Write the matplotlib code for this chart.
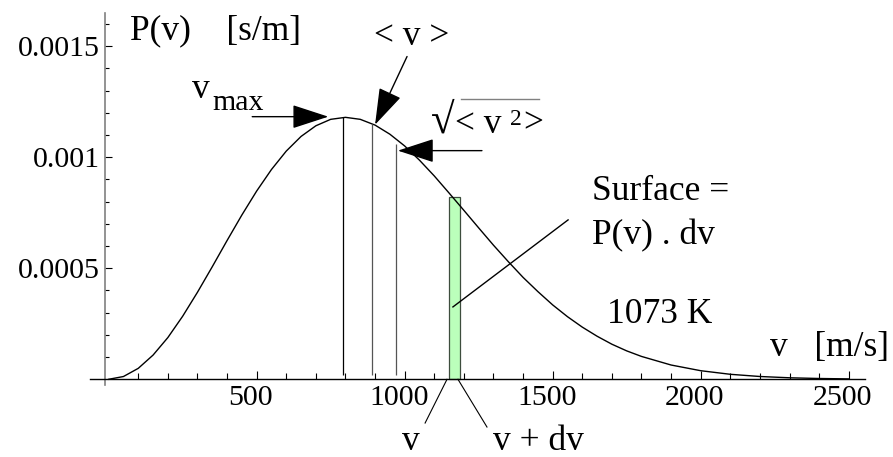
import matplotlib.pyplot as plt
from matplotlib.patches import FancyArrowPatch
from matplotlib.transforms import ScaledTranslation

plt.rcParams['font.family'] = ['Liberation Serif', 'DejaVu Serif']

# Maxwell speed distribution (1073 K)
speed = [0, 50, 100, 150, 200, 250, 300, 350, 400, 450, 500, 550, 600, 650, 700,
         750, 800, 850, 900, 950, 1000, 1050, 1100, 1150, 1200, 1250, 1300, 1350,
         1400, 1450, 1500, 1550, 1600, 1650, 1700, 1750, 1800, 1900, 2000, 2100,
         2200, 2300, 2400, 2500]
prob = [0, 0.0000125, 0.0000493, 0.000109, 0.000188, 0.000284, 0.000392, 0.000507,
        0.000625, 0.000740, 0.000848, 0.000945, 0.001028, 0.001094, 0.001142,
        0.001171, 0.001180, 0.001171, 0.001145, 0.001104, 0.001051, 0.000987,
        0.000916, 0.000839, 0.000761, 0.000682, 0.000604, 0.000530, 0.000459,
        0.000395, 0.000335, 0.000282, 0.000235, 0.000194, 0.000158, 0.000128,
        0.000103, 0.0000643, 0.0000387, 0.0000225, 0.0000126, 0.0000068,
        0.0000036, 0.0000018]

# characteristic speeds: v_max, <v>, sqrt(<v^2>)
char_speed = [790, 890, 970]
char_prob = [0.00118, 0.00115, 0.00106]
char_color = ['black', '#555555', '#555555']

# the small strip P(v).dv
strip_v = 1150
strip_dv = 37
strip_p = 0.00082

xticks = [500, 1000, 1500, 2000, 2500]
xticklabels = ['500', '1000', '1500', '2000', '2500']
yticks = [0.0005, 0.001, 0.0015]
yticklabels = ['0.0005', '0.001', '0.0015']

fig = plt.figure(figsize=(8.93, 4.57), dpi=100)
ax = fig.add_axes([90 / 893, 1 - 385 / 457, 775 / 893, 372 / 457])
ax.set_xlim(-63, 2555)
ax.set_ylim(-0.0000257, 0.00165)

ax.plot(speed, prob, color='black', lw=1.0)
ax.vlines(char_speed, 0.00002, char_prob, colors=char_color, lw=0.9)
ax.bar(strip_v, strip_p, width=strip_dv, align='edge', color='#bbffbb',
       edgecolor='#3d4d3d', lw=0.9)

# axes through the origin, Mathematica style
for s in ['top', 'right']:
    ax.spines[s].set_visible(False)
ax.spines['left'].set_position(('data', -12))
ax.spines['left'].set_color('#808080')
ax.spines['left'].set_linewidth(1.2)
ax.spines['bottom'].set_position(('data', 0))
ax.spines['bottom'].set_linewidth(1.0)

ax.set_xticks(xticks)
ax.set_xticklabels(xticklabels)
ax.set_xticks([m for m in range(100, 2500, 100) if m % 500], minor=True)
ax.set_yticks(yticks)
ax.set_yticklabels(yticklabels)
ax.set_yticks([k * 0.0001 for k in range(1, 17) if k % 5], minor=True)
ax.tick_params(axis='both', which='both', direction='in', width=0.8,
               labelsize=21.5)
ax.tick_params(axis='x', which='major', length=6, pad=4)
ax.tick_params(axis='x', which='minor', length=4)
ax.tick_params(axis='y', which='major', length=5, pad=4)
ax.tick_params(axis='y', which='minor', length=3)
for lab in ax.get_xticklabels():
    lab.set_transform(lab.get_transform() + ScaledTranslation(-0.06, 0, fig.dpi_scale_trans))

big = 25.5
ax.text(72, 0.00153, 'P(v)    [s/m]', fontsize=big, va='baseline')
ax.text(1023, 0.001508, '< v >', fontsize=big, ha='center', va='baseline')
ax.text(281, 0.001269, 'v', fontsize=big, va='baseline')
ax.text(352, 0.001215, 'max', fontsize=21.5, va='baseline')
# root mean square speed: radical sign, bracket, superscript, overline
ax.text(1090, 0.001111, '\u221a', fontsize=31, va='baseline')
ax.text(1170, 0.001111, '< v', fontsize=big, va='baseline')
ax.text(1355, 0.001147, '2', fontsize=17, va='baseline')
ax.text(1400, 0.001111, '>', fontsize=big, va='baseline')
ax.plot([1190, 1455], [0.001264, 0.001264], color='#808080', lw=1.0)
ax.text(1633, 0.000808, 'Surface =', fontsize=big, va='baseline')
ax.text(1633, 0.00061, 'P(v) . dv', fontsize=big, va='baseline')
ax.text(1683, 0.000254, '1073 K', fontsize=big, va='baseline')
ax.text(2234, 0.000105, 'v   [m/s]', fontsize=big, va='baseline')
ax.text(991, -0.000318, 'v', fontsize=big, va='baseline', clip_on=False)
ax.text(1298, -0.000318, 'v + dv', fontsize=big, va='baseline', clip_on=False)

# arrows pointing at the characteristic speeds
arrows = [((485, 0.001183), (742, 0.001183)),
          ((1008, 0.001454), (900, 0.001147)),
          ((1261, 0.00103), (977, 0.00103))]
for start, tip in arrows:
    ax.add_patch(FancyArrowPatch(start, tip, arrowstyle='-|>,head_length=23,head_width=7.5',
                                 mutation_scale=1, color='black', lw=1.0,
                                 shrinkA=0, shrinkB=0))

# leader lines
ax.plot([1552, 1163], [0.000718, 0.000326], color='black', lw=1.0)
ax.plot([1143, 1069], [0, -0.000197], color='black', lw=0.8, clip_on=False)
ax.plot([1180, 1278], [0, -0.000215], color='black', lw=0.8, clip_on=False)

plt.savefig('out.png', dpi=100)
